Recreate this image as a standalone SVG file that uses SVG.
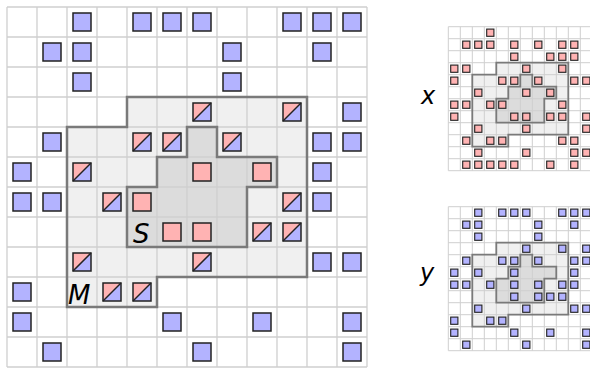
<svg xmlns="http://www.w3.org/2000/svg" xmlns:xlink="http://www.w3.org/1999/xlink" width="590" height="368" viewBox="0 0 590 368">
<style>
.grid{fill:none;stroke:#cfcfcf}
.mreg{fill:#f0f0f0}
.sreg{fill:#dcdcdc}
.outl{fill:none;stroke:#7a7a7a;stroke-linejoin:miter}
.sq{stroke:#222}
.pk{fill:#ffb3b3}
.bl{fill:#b3b3ff}
.lbl{font-family:"DejaVu Sans",sans-serif;font-style:italic;fill:#000}
</style>
<defs>
<path id="gridp" d="M7,7V367M37,7V367M67,7V367M97,7V367M127,7V367M157,7V367M187,7V367M217,7V367M247,7V367M277,7V367M307,7V367M337,7V367M367,7V367M7,7H367M7,37H367M7,67H367M7,97H367M7,127H367M7,157H367M7,187H367M7,217H367M7,247H367M7,277H367M7,307H367M7,337H367M7,367H367"/>
<path id="mp" d="M127,97H307V277H157V307H67V127H127Z"/>
<path id="sp" d="M127,187H157V157H187V127H217V157H277V187H247V247H127Z"/>
<rect id="b" class="sq bl" width="18" height="18"/>
<rect id="p" class="sq pk" width="18" height="18"/>
<g id="h"><path class="pk" d="M0,0H18L0,18Z"/><path class="bl" d="M18,0V18H0Z"/><path class="sq" fill="none" d="M0,18L18,0"/><rect class="sq" fill="none" width="18" height="18"/></g>
</defs>
<rect width="590" height="368" fill="#fff"/>

<g id="main">
<g id="regions">
<use xlink:href="#mp" class="mreg"/>
<use xlink:href="#sp" class="sreg"/>
<use xlink:href="#gridp" class="grid" stroke-width="1.3"/>
<use xlink:href="#mp" class="outl" stroke-width="2.5"/>
<use xlink:href="#sp" class="outl" stroke-width="2.5"/>
</g>
<g id="main-blue" stroke-width="1.5">
<use xlink:href="#b" x="73" y="13"/><use xlink:href="#b" x="133" y="13"/><use xlink:href="#b" x="163" y="13"/><use xlink:href="#b" x="193" y="13"/><use xlink:href="#b" x="283" y="13"/><use xlink:href="#b" x="313" y="13"/><use xlink:href="#b" x="343" y="13"/>
<use xlink:href="#b" x="43" y="43"/><use xlink:href="#b" x="73" y="43"/><use xlink:href="#b" x="223" y="43"/><use xlink:href="#b" x="313" y="43"/>
<use xlink:href="#b" x="73" y="73"/><use xlink:href="#b" x="223" y="73"/>
<use xlink:href="#b" x="343" y="103"/>
<use xlink:href="#b" x="43" y="133"/><use xlink:href="#b" x="313" y="133"/><use xlink:href="#b" x="343" y="133"/>
<use xlink:href="#b" x="13" y="163"/><use xlink:href="#b" x="313" y="163"/>
<use xlink:href="#b" x="13" y="193"/><use xlink:href="#b" x="43" y="193"/><use xlink:href="#b" x="313" y="193"/>
<use xlink:href="#b" x="313" y="253"/><use xlink:href="#b" x="343" y="253"/>
<use xlink:href="#b" x="13" y="283"/>
<use xlink:href="#b" x="13" y="313"/><use xlink:href="#b" x="163" y="313"/><use xlink:href="#b" x="253" y="313"/><use xlink:href="#b" x="343" y="313"/>
<use xlink:href="#b" x="43" y="343"/><use xlink:href="#b" x="193" y="343"/><use xlink:href="#b" x="343" y="343"/>
</g>
<g id="main-half" stroke-width="1.5">
<use xlink:href="#h" x="193" y="103"/><use xlink:href="#h" x="283" y="103"/>
<use xlink:href="#h" x="133" y="133"/><use xlink:href="#h" x="163" y="133"/><use xlink:href="#h" x="223" y="133"/>
<use xlink:href="#h" x="73" y="163"/>
<use xlink:href="#h" x="103" y="193"/><use xlink:href="#h" x="283" y="193"/>
<use xlink:href="#h" x="253" y="223"/><use xlink:href="#h" x="283" y="223"/>
<use xlink:href="#h" x="73" y="253"/><use xlink:href="#h" x="193" y="253"/>
<use xlink:href="#h" x="103" y="283"/><use xlink:href="#h" x="133" y="283"/>
</g>
<g id="main-pink" stroke-width="1.5">
<use xlink:href="#p" x="193" y="163"/><use xlink:href="#p" x="253" y="163"/>
<use xlink:href="#p" x="133" y="193"/>
<use xlink:href="#p" x="163" y="223"/><use xlink:href="#p" x="193" y="223"/>
</g>
<text class="lbl" x="133" y="243" font-size="26">S</text>
<text class="lbl" x="68" y="304" font-size="26">M</text>
</g>

<g id="xgrid">
<text class="lbl" x="421" y="104" font-size="24">x</text>
<g transform="translate(448.3,26.7) scale(0.4) translate(-7,-7)">
<use xlink:href="#mp" class="mreg"/>
<use xlink:href="#sp" class="sreg"/>
<use xlink:href="#gridp" class="grid" stroke-width="2.5"/>
<use xlink:href="#mp" class="outl" stroke-width="4.5"/>
<use xlink:href="#sp" class="outl" stroke-width="4.5"/>
<g stroke-width="2.8">
<use xlink:href="#p" x="103" y="13"/>
<use xlink:href="#p" x="43" y="43"/><use xlink:href="#p" x="73" y="43"/><use xlink:href="#p" x="103" y="43"/><use xlink:href="#p" x="163" y="43"/><use xlink:href="#p" x="223" y="43"/><use xlink:href="#p" x="283" y="43"/><use xlink:href="#p" x="313" y="43"/>
<use xlink:href="#p" x="163" y="73"/><use xlink:href="#p" x="253" y="73"/><use xlink:href="#p" x="283" y="73"/><use xlink:href="#p" x="313" y="73"/>
<use xlink:href="#p" x="13" y="103"/><use xlink:href="#p" x="43" y="103"/><use xlink:href="#p" x="193" y="103"/><use xlink:href="#p" x="283" y="103"/>
<use xlink:href="#p" x="13" y="133"/><use xlink:href="#p" x="133" y="133"/><use xlink:href="#p" x="163" y="133"/><use xlink:href="#p" x="223" y="133"/><use xlink:href="#p" x="313" y="133"/><use xlink:href="#p" x="343" y="133"/>
<use xlink:href="#p" x="73" y="163"/><use xlink:href="#p" x="193" y="163"/><use xlink:href="#p" x="253" y="163"/>
<use xlink:href="#p" x="13" y="193"/><use xlink:href="#p" x="43" y="193"/><use xlink:href="#p" x="103" y="193"/><use xlink:href="#p" x="133" y="193"/><use xlink:href="#p" x="283" y="193"/>
<use xlink:href="#p" x="13" y="223"/><use xlink:href="#p" x="163" y="223"/><use xlink:href="#p" x="193" y="223"/><use xlink:href="#p" x="253" y="223"/><use xlink:href="#p" x="283" y="223"/><use xlink:href="#p" x="343" y="223"/>
<use xlink:href="#p" x="73" y="253"/><use xlink:href="#p" x="193" y="253"/><use xlink:href="#p" x="343" y="253"/>
<use xlink:href="#p" x="43" y="283"/><use xlink:href="#p" x="103" y="283"/><use xlink:href="#p" x="133" y="283"/><use xlink:href="#p" x="283" y="283"/><use xlink:href="#p" x="313" y="283"/>
<use xlink:href="#p" x="73" y="313"/><use xlink:href="#p" x="193" y="313"/><use xlink:href="#p" x="313" y="313"/><use xlink:href="#p" x="343" y="313"/>
<use xlink:href="#p" x="43" y="343"/><use xlink:href="#p" x="73" y="343"/><use xlink:href="#p" x="103" y="343"/><use xlink:href="#p" x="133" y="343"/><use xlink:href="#p" x="163" y="343"/><use xlink:href="#p" x="253" y="343"/><use xlink:href="#p" x="313" y="343"/>
</g>
</g>
</g>

<g id="ygrid">
<text class="lbl" x="420" y="281" font-size="24">y</text>
<g transform="translate(448.3,206.7) scale(0.4) translate(-7,-7)">
<use xlink:href="#mp" class="mreg"/>
<use xlink:href="#sp" class="sreg"/>
<use xlink:href="#gridp" class="grid" stroke-width="2.5"/>
<use xlink:href="#mp" class="outl" stroke-width="4.5"/>
<use xlink:href="#sp" class="outl" stroke-width="4.5"/>
<g stroke-width="2.8">
<use xlink:href="#b" x="73" y="13"/><use xlink:href="#b" x="133" y="13"/><use xlink:href="#b" x="163" y="13"/><use xlink:href="#b" x="193" y="13"/><use xlink:href="#b" x="283" y="13"/><use xlink:href="#b" x="313" y="13"/><use xlink:href="#b" x="343" y="13"/>
<use xlink:href="#b" x="43" y="43"/><use xlink:href="#b" x="73" y="43"/><use xlink:href="#b" x="223" y="43"/><use xlink:href="#b" x="313" y="43"/>
<use xlink:href="#b" x="73" y="73"/><use xlink:href="#b" x="223" y="73"/>
<use xlink:href="#b" x="193" y="103"/><use xlink:href="#b" x="283" y="103"/><use xlink:href="#b" x="343" y="103"/>
<use xlink:href="#b" x="43" y="133"/><use xlink:href="#b" x="133" y="133"/><use xlink:href="#b" x="163" y="133"/><use xlink:href="#b" x="223" y="133"/><use xlink:href="#b" x="313" y="133"/><use xlink:href="#b" x="343" y="133"/>
<use xlink:href="#b" x="13" y="163"/><use xlink:href="#b" x="73" y="163"/><use xlink:href="#b" x="163" y="163"/><use xlink:href="#b" x="313" y="163"/>
<use xlink:href="#b" x="13" y="193"/><use xlink:href="#b" x="43" y="193"/><use xlink:href="#b" x="103" y="193"/><use xlink:href="#b" x="163" y="193"/><use xlink:href="#b" x="223" y="193"/><use xlink:href="#b" x="283" y="193"/><use xlink:href="#b" x="313" y="193"/>
<use xlink:href="#b" x="163" y="223"/><use xlink:href="#b" x="223" y="223"/><use xlink:href="#b" x="253" y="223"/><use xlink:href="#b" x="283" y="223"/>
<use xlink:href="#b" x="73" y="253"/><use xlink:href="#b" x="193" y="253"/><use xlink:href="#b" x="313" y="253"/><use xlink:href="#b" x="343" y="253"/>
<use xlink:href="#b" x="13" y="283"/><use xlink:href="#b" x="103" y="283"/><use xlink:href="#b" x="133" y="283"/>
<use xlink:href="#b" x="13" y="313"/><use xlink:href="#b" x="163" y="313"/><use xlink:href="#b" x="253" y="313"/><use xlink:href="#b" x="343" y="313"/>
<use xlink:href="#b" x="43" y="343"/><use xlink:href="#b" x="193" y="343"/><use xlink:href="#b" x="343" y="343"/>
</g>
</g>
</g>
</svg>
